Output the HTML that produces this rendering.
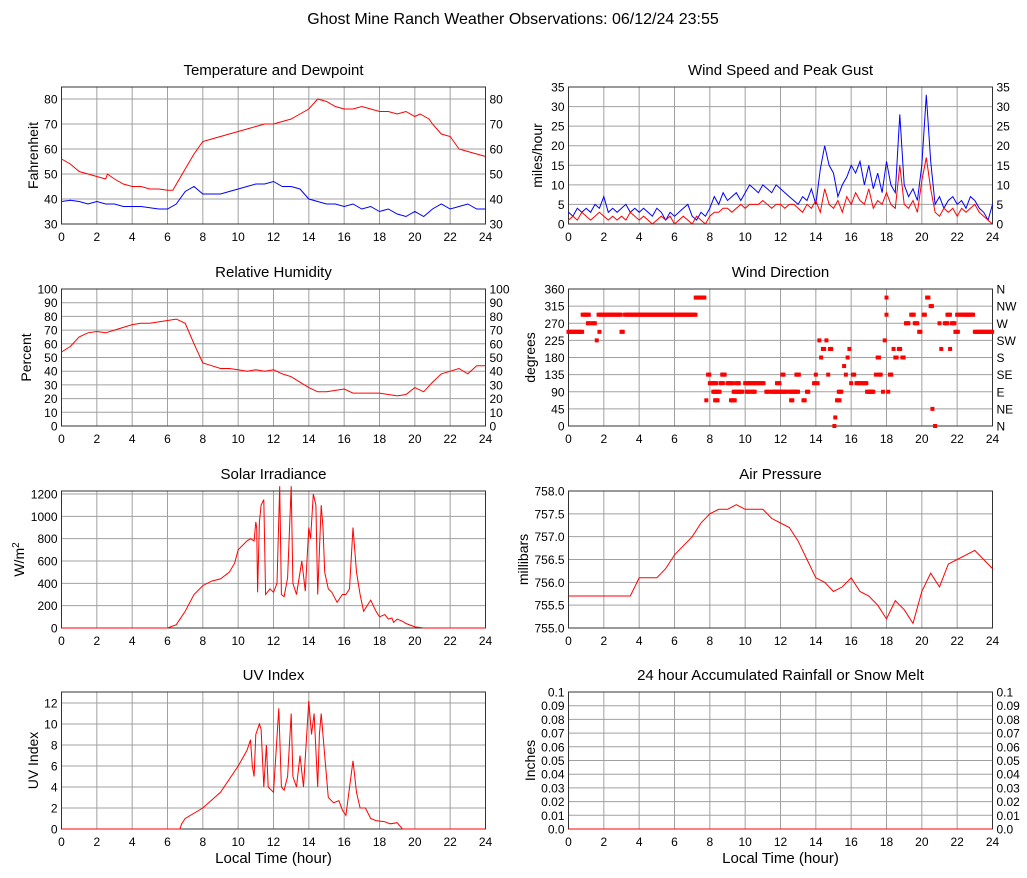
<!DOCTYPE html>
<html><head><meta charset="utf-8">
<style>
html,body{margin:0;padding:0;background:#fff;}
svg{display:block;font-family:"Liberation Sans",sans-serif;}
</style></head>
<body>
<svg id="chart" width="1027" height="878" viewBox="0 0 1027 878" xmlns="http://www.w3.org/2000/svg">
<rect width="1027" height="878" fill="#fff"/>
<text x="513" y="24" font-size="16" text-anchor="middle">Ghost Mine Ranch Weather Observations: 06/12/24 23:55</text>
</svg>
<script>
// ---- data ----
const halfHours = [0,0.5,1,1.5,2,2.5,3,3.5,4,4.5,5,5.5,6,6.5,7,7.5,8,8.5,9,9.5,10,10.5,11,11.5,12,12.5,13,13.5,14,14.5,15,15.5,16,16.5,17,17.5,18,18.5,19,19.5,20,20.5,21,21.5,22,22.5,23,23.5,24];
const tempT = [0,0.5,1,1.5,2,2.5,2.6,3,3.5,4,4.5,5,5.5,6,6.3,7,7.5,8,8.5,9,9.5,10,10.5,11,11.5,12,12.5,13,13.5,14,14.5,15,15.5,16,16.5,17,17.5,18,18.5,19,19.5,20,20.3,20.8,21,21.5,22,22.5,23,23.5,24];
const tempV = [56,54,51,50,49,48,50,48,46,45,45,44,44,43.5,43.5,52,58,63,64,65,66,67,68,69,70,70,71,72,74,76,80,79,77,76,76,77,76,75,75,74,75,73,74,72,70,66,65,60,59,58,57];
const dewV = [39,39.5,39,38,39,38,38,37,37,37,36.5,36,36,38,43,45,42,42,42,43,44,45,46,46,47,45,45,44,40,39,38,38,37,38,36,37,35,36,34,33,35,33,36,38,36,37,38,36,36];
const rhV = [54,58,65,68,69,68,70,72,74,75,75,76,77,78,75,60,46,44,42,42,41,40,41,40,41,38,36,32,28,25,25,26,27,24,24,24,24,23,22,23,28,25,32,38,40,42,38,44,44];
const windV = [1,2,1,3,2,1,2,3,2, 1,2,1,2,1,3,2,1, 2,1,0,1,2,1,2,0, 1,2,1,0,2,1,0,2, 3,3,4,4,3,4,5,4, 5,5,5,6,5,4,5,5, 4,5,5,4,3,5,4,6, 3,9,5,4,6,3,7,5, 8,6,5,9,4,6,5,8, 5,4,15,5,4,6,3,11, 17,9,3,2,4,3,4,2, 4,3,4,5,3,2,1,0];
const gustV = [3,2,4,3,4,3,5,4,7, 3,4,3,4,5,3,4,3, 4,3,2,4,3,1,3,2, 3,4,5,2,1,3,2,4, 7,5,8,6,7,8,6,8, 10,9,8,10,9,8,10,9, 8,7,6,5,7,6,9,5, 14,20,15,13,7,10,12,15, 13,16,10,15,9,13,8,16, 10,8,28,10,7,9,6,15, 33,16,5,7,4,6,7,5, 6,4,7,6,4,3,1,5];
const dirStart = [0,0.8,1.1,1.35,1.6,1.75,1.7,3.0,3.2,7.2,7.8,7.9,8.0,8.2,8.3,8.6,8.7,9.0,9.2,9.35,9.5,10.0,10.4,10.1,10.9,11.2,11.5,11.8,12.5,12.1,12.6,12.9,13.3,13.5,13.9,14.0,14.1,14.2,14.3,14.4,14.6,14.7,14.8,15.05,15.1,15.2,15.3,15.6,15.7,15.8,15.9,16.0,16.1,16.3,16.9,17.1,17.4,17.5,17.6,17.8,17.9,18.0,18.0,18.1,18.2,18.4,18.5,18.7,18.9,19.1,19.4,19.6,19.85,20.1,20.3,20.5,20.6,20.75,21.0,21.1,21.3,21.45,21.6,21.7,21.9,22.0,22.2,23.0];
const dirEnd   = [0.8,1.2,1.2,1.5,1.6,1.75,3.0,3.1,7.2,7.75,7.8,8.0,8.4,8.6,8.45,8.8,8.9,9.3,9.45,9.9,9.7,10.8,10.6,10.3,11.1,11.4,12.4,12.0,13.0,12.2,12.7,13.1,13.4,13.6,14.0,14.0,14.1,14.2,14.3,14.5,14.6,14.7,14.9,15.05,15.1,15.4,15.5,15.6,15.7,15.8,15.9,16.0,16.2,16.9,17.3,17.2,17.4,17.6,17.7,17.8,17.95,18.0,18.0,18.1,18.3,18.4,18.6,18.8,19.0,19.3,19.6,19.8,19.95,20.2,20.4,20.6,20.6,20.75,21.0,21.1,21.45,21.6,21.6,21.9,22.1,22.1,22.9,24];
const dirVal   = [247.5,292.5,270,270,225,247.5,292.5,247.5,292.5,337.5,67.5,135,112.5,90,67.5,112.5,135,112.5,67.5,90,112.5,112.5,90,90,112.5,90,90,112.5,90,135,67.5,135,67.5,90,112.5,135,112.5,225,180,202.5,225,135,202.5,0,22.5,67.5,90,157.5,135,180,202.5,112.5,135,112.5,90,90,135,180,135,90,225,337.5,292.5,90,135,202.5,180,202.5,180,270,292.5,270,247.5,292.5,337.5,315,45,0,270,202.5,270,292.5,202.5,270,247.5,292.5,292.5,247.5];
const presV = [755.7,755.7,755.7,755.7,755.7,755.7,755.7,755.7,756.1,756.1,756.1,756.3,756.6,756.8,757.0,757.3,757.5,757.6,757.6,757.7,757.6,757.6,757.6,757.4,757.3,757.2,756.9,756.5,756.1,756.0,755.8,755.9,756.1,755.8,755.7,755.5,755.2,755.6,755.4,755.1,755.8,756.2,755.9,756.4,756.5,756.6,756.7,756.5,756.3];
const solarT = [0,6,6.5,7,7.5,8,8.5,9,9.5,9.8,10,10.5,10.7,10.9,11.0,11.05,11.1,11.2,11.3,11.45,11.55,11.8,12.0,12.2,12.35,12.45,12.6,12.8,13.0,13.1,13.3,13.6,13.8,14.0,14.1,14.25,14.4,14.5,14.7,14.8,14.9,15.1,15.3,15.6,15.9,16.1,16.3,16.5,16.7,16.9,17.1,17.5,17.8,18.0,18.3,18.5,18.7,18.8,19,19.3,19.5,20,20.5,24];
const solarV = [0,0,30,150,300,380,420,440,500,580,700,780,800,780,950,900,320,950,1100,1150,300,350,320,400,1270,300,280,450,1270,400,300,600,330,900,800,1200,1100,300,1100,900,500,350,320,230,300,300,350,900,500,300,150,250,150,100,120,80,90,50,80,60,40,10,0,0];
const uvT = [0,6.7,6.8,7,8,9,10,10.5,10.7,10.8,10.9,11.0,11.2,11.3,11.45,11.6,11.7,12.0,12.3,12.45,12.6,12.8,13.0,13.1,13.3,13.5,13.7,14.0,14.15,14.3,14.5,14.6,14.7,14.9,15.1,15.4,15.7,15.9,16.1,16.5,16.7,16.9,17.2,17.5,17.8,18.3,18.6,19,19.2,19.3,24];
const uvV = [0,0,0.5,1,2,3.5,6,7.5,8.5,6,5,9,10,9.5,4,8,4,3.5,11.5,4,3.7,5,11,5,4,7,4,12.2,9,11,4,9,11,7,3,2.5,2.7,1.8,1.3,6.5,3.5,2,2,1,0.8,0.7,0.5,0.6,0.2,0,0];
const rainT = [0,24];
const rainV = [0,0];
const hourTicks = [0,2,4,6,8,10,12,14,16,18,20,22,24];
const compassLabels = ["N","NE","E","SE","S","SW","W","NW","N"];

// ---- drawing ----
const svg = document.getElementById('chart');
const NS = 'http://www.w3.org/2000/svg';
function mk(tag, a, parent){const e=document.createElementNS(NS,tag);for(const k in a)e.setAttribute(k,a[k]);(parent||svg).appendChild(e);return e;}

function panel(p){
  const g = mk('g',{});
  
  
  const sx = t => p.x0 + t/24*(p.x1-p.x0);
  const sy = v => p.y1 - (v-p.ymin)/(p.ymax-p.ymin)*(p.y1-p.y0);
  p.sx=sx; p.sy=sy;
  // grid
  hourTicks.forEach((h,i)=>{
    if(h>0&&h<24){
      const l=mk('line',{x1:sx(h),x2:sx(h),y1:p.y0,y2:p.y1,stroke:'#a0a0a0','stroke-width':1},g);
      
      
    }
    const t=mk('text',{x:sx(h),y:p.y1+17,'font-size':12,'text-anchor':'middle',fill:'#000'},g);
    t.textContent=h;
    
    
  });
  p.ticks.forEach((v,i)=>{
    const y=sy(v);
    if(y>p.y0+0.5&&y<p.y1-0.5){
      const l=mk('line',{x1:p.x0,x2:p.x1,y1:y,y2:y,stroke:'#a0a0a0','stroke-width':1},g);
      
      
    }
    const lab = p.fmt? p.fmt(v): String(v);
    const t=mk('text',{x:p.x0-4,y:y+4.5,'font-size':12,'text-anchor':'end'},g);
    t.textContent=lab;
    
    
    if(p.right){
      const r=mk('text',{x:p.x1+4,y:y+4.5,'font-size':12,'text-anchor':'start'},g);
      r.textContent = p.rightLabels? p.rightLabels[i] : lab;
      
      
    }
  });
  const box=mk('rect',{x:p.x0,y:p.y0,width:p.x1-p.x0,height:p.y1-p.y0,fill:'none',stroke:'#333','stroke-width':1},g);
  
  
  const ti=mk('text',{x:(p.x0+p.x1)/2,y:p.y0-12,'font-size':15,'text-anchor':'middle'},g);
  ti.textContent=p.title;
  
  
  const yt=mk('text',{x:0,y:0,'font-size':14,'text-anchor':'middle',transform:`translate(${p.ytx},${(p.y0+p.y1)/2}) rotate(-90)`},g);
  if(p.ytitleHTML){yt.innerHTML=p.ytitleHTML;} else yt.textContent=p.ytitle;
  
  
  if(p.xtitle){
    const xt=mk('text',{x:(p.x0+p.x1)/2,y:p.y1+34,'font-size':15,'text-anchor':'middle'},g);
    xt.textContent='Local Time (hour)';
    
    
  }
  p.g=g;
  return p;
}
function line(p, ts, vs, color, name){
  const d = ts.map((t,i)=>(i?'L':'M')+p.sx(t).toFixed(1)+','+p.sy(vs[i]).toFixed(1)).join('');
  const e=mk('path',{d:d,fill:'none',stroke:color,'stroke-width':1},p.g);
  
  
}
const quarterHours = windV.map((v,i)=>i*0.25);
const L={x0:61.5,x1:485.5}, R={x0:568.5,x1:992.5};
const rows=[{y0:87,y1:224},{y0:289,y1:426},{y0:491,y1:628},{y0:692,y1:829}];

const pT=panel({name:'temperature-panel',title:'Temperature and Dewpoint',x0:L.x0,x1:L.x1,y0:rows[0].y0,y1:rows[0].y1,ymin:30,ymax:84.8,ticks:[30,40,50,60,70,80],right:true,ytitle:'Fahrenheit',ytx:38});
line(pT,tempT,tempV,'#ff0000','temperature-line');
line(pT,halfHours,dewV,'#0000ff','dewpoint-line');

const pW=panel({name:'wind-panel',title:'Wind Speed and Peak Gust',x0:R.x0,x1:R.x1,y0:rows[0].y0,y1:rows[0].y1,ymin:0,ymax:35,ticks:[0,5,10,15,20,25,30,35],right:true,ytitle:'miles/hour',ytx:542});
line(pW,quarterHours,gustV,'#0000ff','gust-line');
line(pW,quarterHours,windV,'#ff0000','wind-speed-line');

const pH=panel({name:'humidity-panel',title:'Relative Humidity',x0:L.x0,x1:L.x1,y0:rows[1].y0,y1:rows[1].y1,ymin:0,ymax:100,ticks:[0,10,20,30,40,50,60,70,80,90,100],right:true,ytitle:'Percent',ytx:31});
line(pH,halfHours,rhV,'#ff0000','humidity-line');

const pD=panel({name:'wind-direction-panel',title:'Wind Direction',x0:R.x0,x1:R.x1,y0:rows[1].y0,y1:rows[1].y1,ymin:0,ymax:360,ticks:[0,45,90,135,180,225,270,315,360],right:true,rightLabels:compassLabels,ytitle:'degrees',ytx:535});
dirStart.forEach((s,i)=>{
  for(let t=s;t<=dirEnd[i]+1e-6;t+=0.07){
    const r=mk('rect',{x:pD.sx(t)-2,y:pD.sy(dirVal[i])-2,width:4,height:4,fill:'#ff0000'},pD.g);
    
    
  }
});

const pS=panel({name:'solar-panel',title:'Solar Irradiance',x0:L.x0,x1:L.x1,y0:rows[2].y0,y1:rows[2].y1,ymin:0,ymax:1227,ticks:[0,200,400,600,800,1000,1200],ytitleHTML:'W/m<tspan dy="-5" font-size="10">2</tspan>',ytx:24});
line(pS,solarT,solarV,'#ff0000','solar-line');

const pP=panel({name:'pressure-panel',title:'Air Pressure',x0:R.x0,x1:R.x1,y0:rows[2].y0,y1:rows[2].y1,ymin:755,ymax:758,ticks:[755,755.5,756,756.5,757,757.5,758],fmt:v=>v.toFixed(1),ytitle:'millibars',ytx:528});
line(pP,halfHours,presV,'#ff0000','pressure-line');

const pU=panel({name:'uv-panel',title:'UV Index',x0:L.x0,x1:L.x1,y0:rows[3].y0,y1:rows[3].y1,ymin:0,ymax:13.05,ticks:[0,2,4,6,8,10,12],ytitle:'UV Index',ytx:38,xtitle:true});
line(pU,uvT,uvV,'#ff0000','uv-line');

const pR=panel({name:'rainfall-panel',title:'24 hour Accumulated Rainfall or Snow Melt',x0:R.x0,x1:R.x1,y0:rows[3].y0,y1:rows[3].y1,ymin:0,ymax:0.1,ticks:[0,0.01,0.02,0.03,0.04,0.05,0.06,0.07,0.08,0.09,0.1],right:true,fmt:v=>v===0?'0.0':(v===0.1?'0.1':v.toFixed(2)),ytitle:'Inches',ytx:535,xtitle:true});
line(pR,rainT,rainV,'#ff0000','rainfall-line');
</script>
</body></html>
